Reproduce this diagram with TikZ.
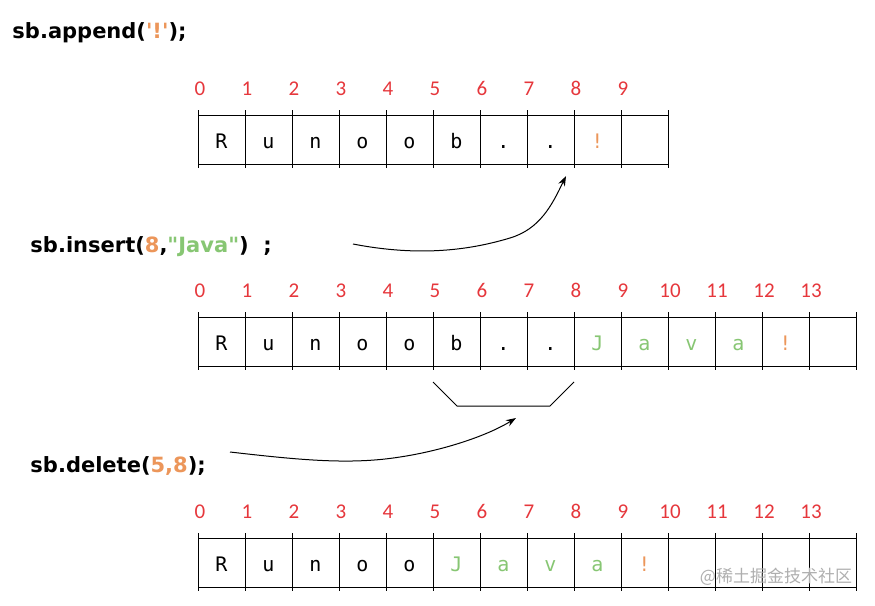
\documentclass[tikz,border=0pt]{standalone}
\usepackage{fontspec}
\usepackage{tikz}
\usetikzlibrary{arrows.meta}
\newfontfamily\codefont{DejaVu Sans}
\newfontfamily\cellfont{DejaVu Sans Mono}
\newfontfamily\idxfont{Carlito}
\newfontfamily\cjkfont{Noto Sans CJK SC}
\definecolor{idxred}{RGB}{230,55,60}
\definecolor{orng}{RGB}{236,150,90}
\definecolor{jgreen}{RGB}{135,198,115}
\definecolor{wmgray}{RGB}{175,175,175}
% one row of cells: #1 top y, #2 number of cells
\newcommand{\cellrow}[2]{%
  \draw (198,#1) -- (198+47*#2,#1);
  \draw (198,#1+49) -- (198+47*#2,#1+49);
  \foreach \k in {0,...,#2} \draw (198+47*\k,#1-5) -- (198+47*\k,#1+53);
}

\begin{document}
\begin{tikzpicture}[x=1pt,y=-1pt,line width=1pt,>={Stealth[length=10pt,width=7pt]},
  idx/.style={text=idxred,font=\idxfont\fontsize{21}{21}\selectfont,inner sep=0pt,anchor=base},
  chr/.style={font=\cellfont\fontsize{20}{20}\selectfont,inner sep=0pt,anchor=base},
  code/.style={font=\codefont\bfseries\fontsize{21}{21}\selectfont,anchor=base west,inner sep=0pt},
  wm/.style={text=wmgray,font=\cjkfont\fontsize{17}{17}\selectfont,inner sep=0pt}]
  \fill[white] (0,0) rectangle (875,605);
  \useasboundingbox (0,0) rectangle (875,605);

  % append
  \node[code] (app) at (12,38) {sb.append(\textcolor{orng}{'!'});};
  \cellrow{115}{10}
  \foreach \i in {0,...,9} \node[idx] (ia-\i) at (200+47*\i,95) {\i};
  \foreach \c [count=\i from 0] in {R,u,n,o,o,b,.,.}
    \node[chr] (ca-\i) at (221.5+47*\i,148) {\c};
  \node[chr,text=orng] (ca-8) at (221.5+47*8,148) {!};
  \coordinate (appTip) at (566,176);

  % insert
  \node[code] (ins) at (30,252) {sb.insert(\textcolor{orng}{8},\textcolor{jgreen}{"Java"})\ \ ;};
  \coordinate (insTail) at (353,244);
  \draw[->] (insTail) .. controls (420,257) and (470,250) .. (510,238)
    .. controls (540,229) and (552,205) .. (appTip);
  \cellrow{317}{14}
  \foreach \i in {0,...,13} \node[idx] (ib-\i) at (200+47*\i,297) {\i};
  \foreach \c [count=\i from 0] in {R,u,n,o,o,b,.,.}
    \node[chr] (cb-\i) at (221.5+47*\i,350) {\c};
  \foreach \c [count=\i from 8] in {J,a,v,a}
    \node[chr,text=jgreen] (cb-\i) at (221.5+47*\i,350) {\c};
  \node[chr,text=orng] (cb-12) at (221.5+47*12,350) {!};

  % bracket under 5..8
  \coordinate (brA) at (433,382);
  \coordinate (brB) at (457,406);
  \coordinate (brC) at (550,406);
  \coordinate (brD) at (574,382);
  \draw (brA) -- (brB) -- (brC) -- (brD);

  % delete
  \node[code] (del) at (30,472) {sb.delete(\textcolor{orng}{5,8});};
  \coordinate (delTail) at (230,452);
  \coordinate (delTip) at (516,418);
  \draw[->] (delTail) .. controls (300,460) and (350,465) .. (400,457)
    .. controls (440,451) and (485,437) .. (delTip);
  \cellrow{538}{14}
  \foreach \i in {0,...,13} \node[idx] (ic-\i) at (200+47*\i,518) {\i};
  \foreach \c [count=\i from 0] in {R,u,n,o,o}
    \node[chr] (cc-\i) at (221.5+47*\i,571) {\c};
  \foreach \c [count=\i from 5] in {J,a,v,a}
    \node[chr,text=jgreen] (cc-\i) at (221.5+47*\i,571) {\c};
  \node[chr,text=orng] (cc-9) at (221.5+47*9,571) {!};

  \node[wm] (mark) at (776,577) {@稀土掘金技术社区};
\end{tikzpicture}
\end{document}
